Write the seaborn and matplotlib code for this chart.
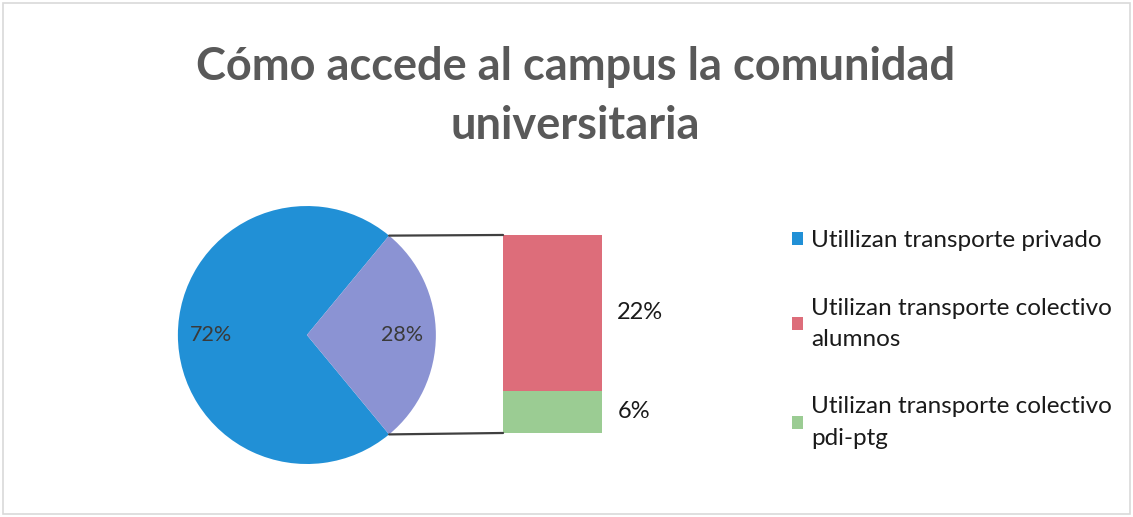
import matplotlib
matplotlib.use("Agg")
import matplotlib.pyplot as plt
import numpy as np
import seaborn as sns
from matplotlib.patches import ConnectionPatch, Patch, Rectangle

# data
TITLE = "Cómo accede al campus la comunidad\nuniversitaria"
LABELS = ["Utillizan transporte privado",
          "Utilizan transporte colectivo\nalumnos",
          "Utilizan transporte colectivo\npdi-ptg"]
PIE_VALUES = [72, 28]            # privado / colectivo (total)
BAR_VALUES = [6, 22]             # pdi-ptg (bottom), alumnos (top)
PIE_LABELS = ["72%", "28%"]
BAR_LABELS = ["6%", "22%"]

BLUE = "#2190D6"
PURPLE = "#8B93D3"
RED = "#DD6D7A"
GREEN = "#9BCC93"

sns.set_theme(style="white")
plt.rcParams["font.family"] = ["Lato", "DejaVu Sans"]

fig = plt.figure(figsize=(11.33, 5.17), dpi=100)
fig.patch.set_facecolor("white")

# outer frame of the chart area
fig.add_artist(Rectangle((0.003, 0.005), 0.994, 0.99, transform=fig.transFigure,
                         fill=False, edgecolor="#D9D9D9", linewidth=1.2))

fig.text(0.508, 0.813, TITLE, ha="center", va="center", fontsize=32.5,
         fontweight="bold", color="#595959", linespacing=1.5)

# pie
ax_pie = fig.add_axes([0.157, 0.1025, 0.2277, 0.499])
half = 360 * PIE_VALUES[1] / sum(PIE_VALUES) / 2
wedges, texts, autotexts = ax_pie.pie(
    PIE_VALUES, colors=[BLUE, PURPLE], startangle=half, counterclock=True,
    autopct=lambda p: "", pctdistance=0.74,
    wedgeprops=dict(linewidth=0))
for at, lab in zip(autotexts, PIE_LABELS):
    at.set_text(lab)
    at.set_fontsize(15.5)
    at.set_color("#3a3a3a")
ax_pie.set_xlim(-1, 1)
ax_pie.set_ylim(-1, 1)
ax_pie.set_aspect("equal")
ax_pie.axis("off")

# stacked bar of the split wedge
ax_bar = fig.add_axes([0.444, 0.1625, 0.0874, 0.383])
bottom = 0
for val, col, lab in zip(BAR_VALUES, [GREEN, RED], BAR_LABELS):
    ax_bar.bar(0, val, bottom=bottom, width=1, color=col, linewidth=0)
    ax_bar.annotate(lab, xy=(0.5, bottom + val / 2), xytext=(11, 0),
                    textcoords="offset points", ha="left", va="center",
                    fontsize=17, color="#1a1a1a", annotation_clip=False)
    bottom += val
ax_bar.set_xlim(-0.5, 0.5)
ax_bar.set_ylim(0, sum(BAR_VALUES))
ax_bar.axis("off")

# connector lines from wedge edge to bar corners
theta = np.deg2rad(half)
for sign, ybar in [(1, sum(BAR_VALUES)), (-1, 0)]:
    con = ConnectionPatch(xyA=(np.cos(theta), sign * np.sin(theta)), coordsA=ax_pie.transData,
                          xyB=(-0.5, ybar), coordsB=ax_bar.transData,
                          color="#404040", linewidth=1.6)
    fig.add_artist(con)

# legend
handles = [Patch(facecolor=c, edgecolor="none") for c in [BLUE, RED, GREEN]]
leg = fig.legend(handles, LABELS, loc="upper left",
                 bbox_to_anchor=(0.688, 0.578), frameon=False, fontsize=17.5,
                 handlelength=0.45, handleheight=0.45, handletextpad=0.35,
                 labelspacing=1.9, borderpad=0)
for t in leg.get_texts():
    t.set_linespacing(1.62)
    t.set_color("#1a1a1a")

fig.savefig("out.png", dpi=100, facecolor="white")
